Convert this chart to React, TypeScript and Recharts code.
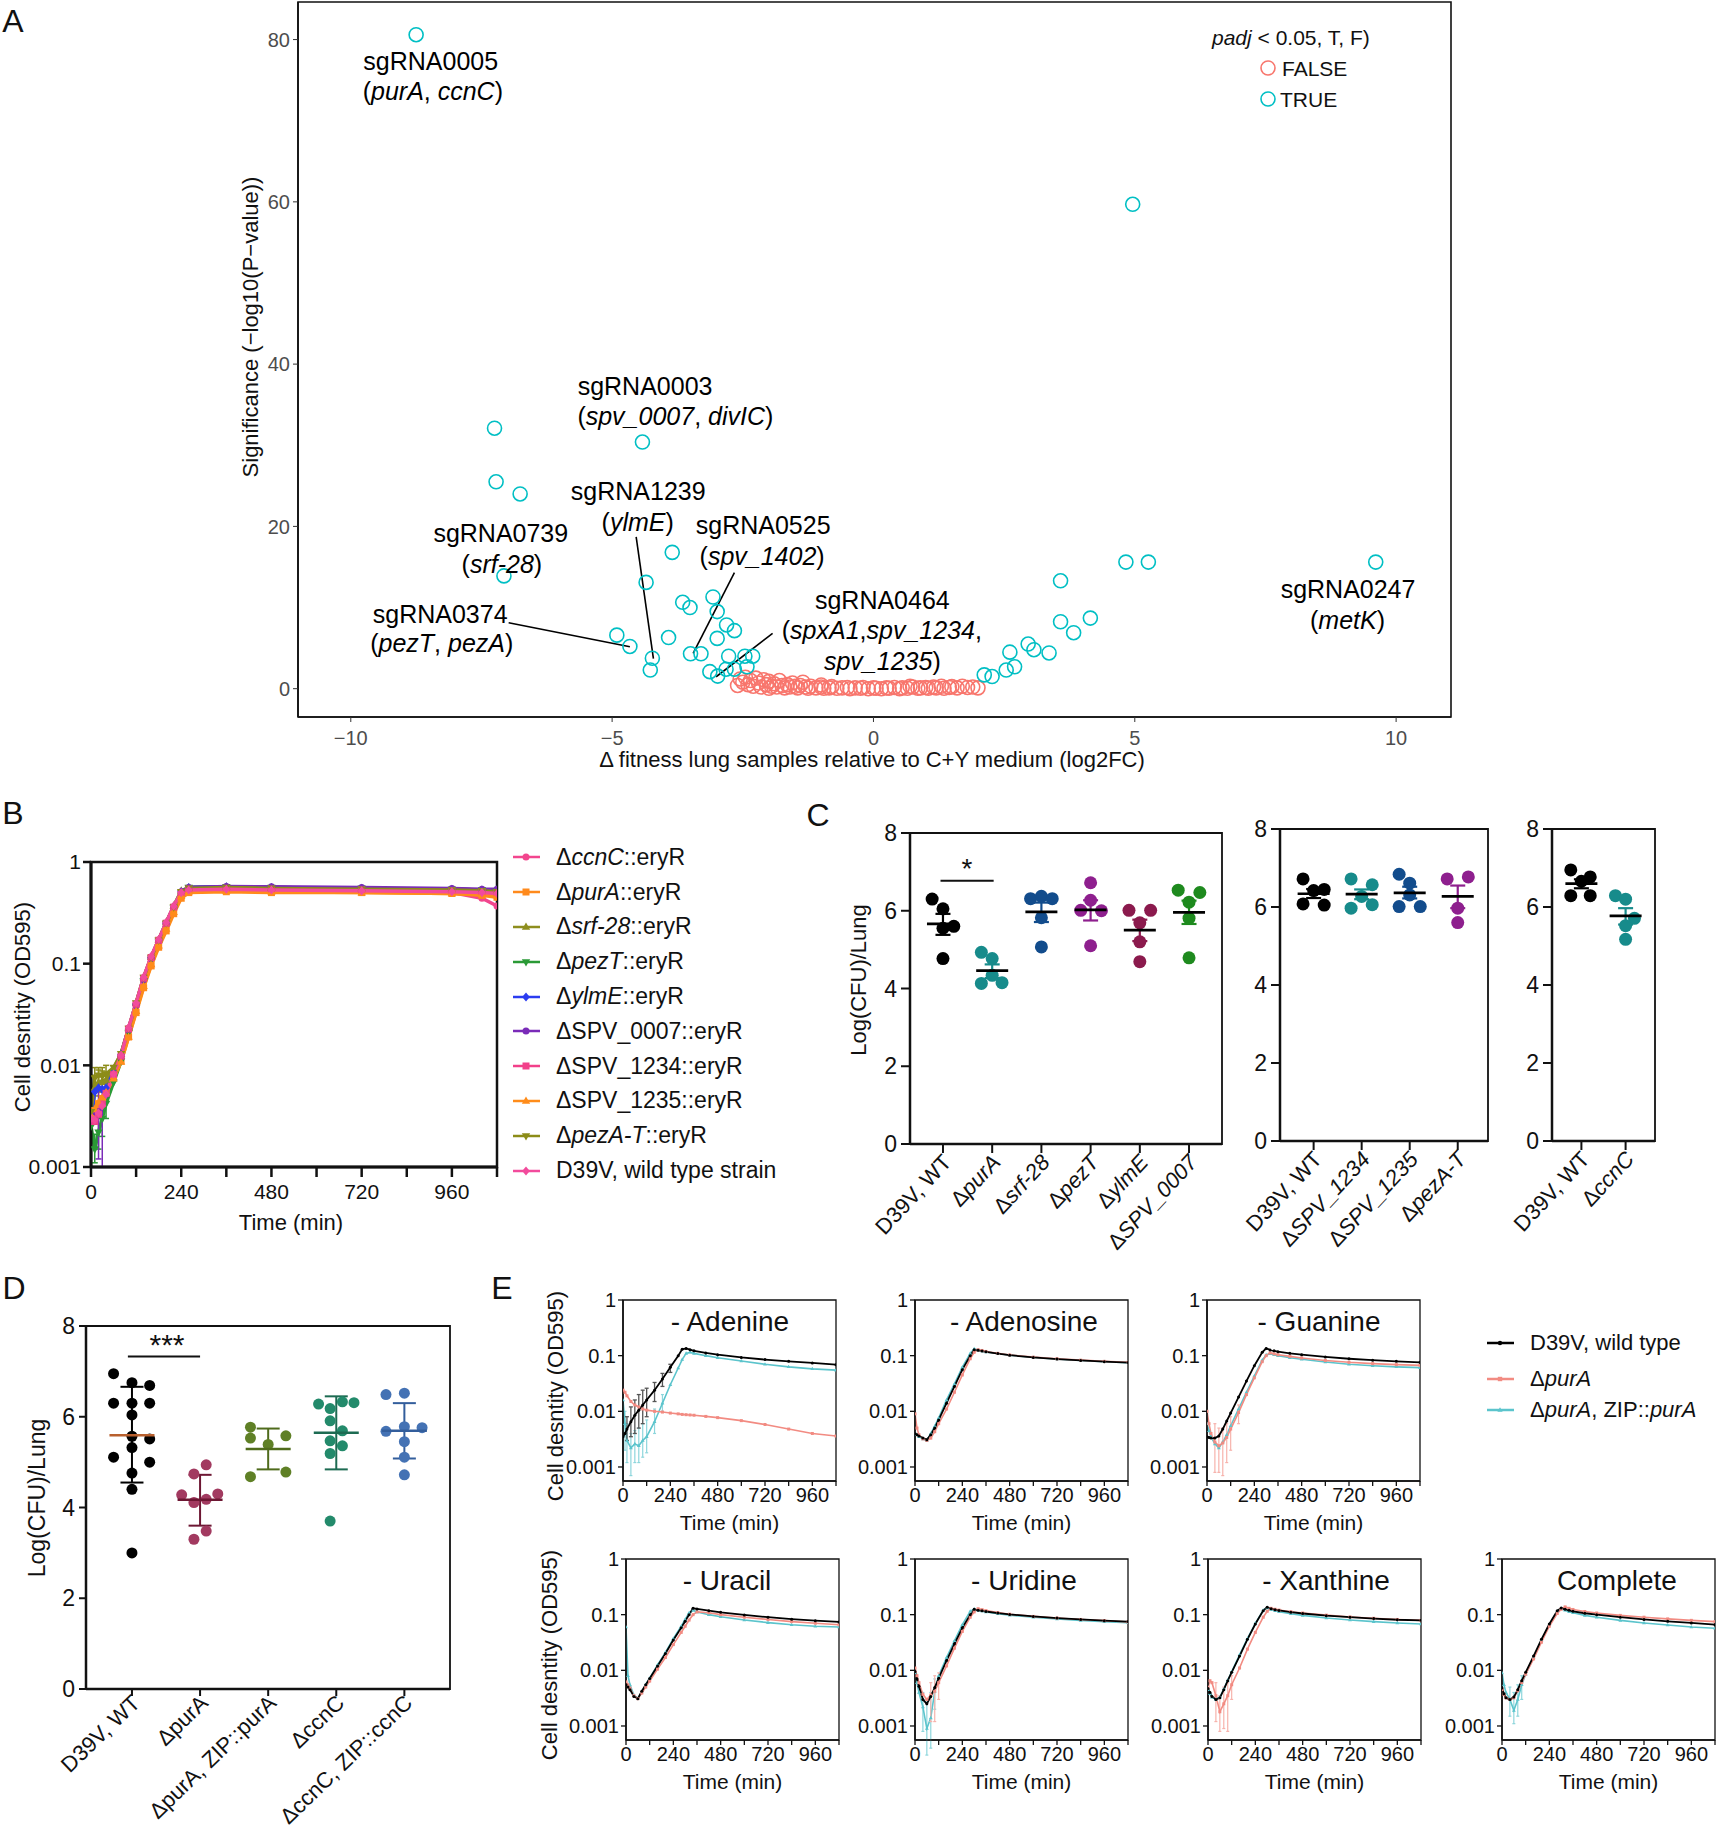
import React from 'react';
import {
  ScatterChart, Scatter, LineChart, Line, XAxis, YAxis,
  ReferenceLine, ReferenceArea, ErrorBar,
} from 'recharts';

const FONT = "'Liberation Sans', Arial, Helvetica, sans-serif";
const INK = '#111';

// ---------- Panel A: volcano (log2FC, -log10 p) ----------
const A_TRUE: [number, number][] = [
  [-8.75, 80.6], [4.96, 59.7], [-7.25, 32.1], [-4.42, 30.4], [-7.22, 25.5], [-6.76, 24.0],
  [-3.85, 16.8], [-7.07, 13.9], [-4.35, 13.1], [-3.65, 10.65], [-3.51, 10.0], [-3.07, 11.3],
  [-2.99, 9.5], [-2.81, 7.85], [-2.66, 7.15], [-2.99, 6.2], [-3.92, 6.3], [-4.91, 6.6],
  [-4.66, 5.2], [-4.23, 3.75], [-4.27, 2.3], [-3.5, 4.3], [-3.3, 4.3], [-2.77, 4.0],
  [-3.13, 2.1], [-2.98, 1.55], [-2.82, 2.4], [-2.66, 2.4], [-2.46, 4.0], [-2.31, 4.0],
  [-2.42, 2.7], [2.12, 1.7], [2.27, 1.5], [2.54, 2.3], [2.7, 2.7], [2.61, 4.5], [2.96, 5.5],
  [3.07, 4.8], [3.36, 4.4], [3.58, 13.3], [3.58, 8.25], [3.83, 6.9], [4.15, 8.7],
  [4.83, 15.6], [5.26, 15.6], [9.61, 15.6],
];
const A_FALSE: [number, number][] = [
  [-2.6, 0.4], [-2.55, 1.2], [-2.5, 0.8], [-2.45, 1.4], [-2.4, 0.5], [-2.35, 1.0], [-2.3, 0.3],
  [-2.25, 1.3], [-2.2, 0.7], [-2.15, 0.2], [-2.1, 1.1], [-2.05, 0.5], [-2.0, 0.9], [-2.0, 0.05],
  [-1.95, 0.3], [-1.9, 0.6], [-1.85, 0.2], [-1.8, 1.0], [-1.75, 0.4], [-1.7, 0.1], [-1.65, 0.5],
  [-1.6, 0.2], [-1.55, 0.7], [-1.5, 0.3], [-1.45, 0.1], [-1.4, 0.4], [-1.35, 0.8], [-1.3, 0.2],
  [-1.25, 0.05], [-1.2, 0.3], [-1.1, 0.1], [-1.0, 0.2], [-1.0, 0.45], [-0.95, 0.05], [-0.85, 0.1],
  [-0.8, 0.25], [-0.7, 0.05], [-0.6, 0.1], [-0.5, 0.15], [-0.45, 0.0], [-0.35, 0.1], [-0.25, 0.05],
  [-0.2, 0.15], [-0.1, 0.0], [0.0, 0.1], [0.05, 0.05], [0.15, 0.0], [0.25, 0.1], [0.3, 0.05],
  [0.4, 0.15], [0.5, 0.0], [0.55, 0.1], [0.65, 0.05], [0.7, 0.3], [0.75, 0.2], [0.85, 0.05],
  [0.9, 0.1], [1.0, 0.15], [1.05, 0.05], [1.15, 0.2], [1.2, 0.1], [1.3, 0.3], [1.35, 0.05],
  [1.45, 0.15], [1.5, 0.25], [1.6, 0.1], [1.7, 0.3], [1.8, 0.15], [1.9, 0.2], [2.0, 0.1],
];
const A_XTICKS = [-10, -5, 0, 5, 10];
const A_YTICKS = [0, 20, 40, 60, 80];

// ---------- Panel B: growth of deletion strains ----------
const B_TIME = [0, 10, 20, 30, 40, 60, 80, 100, 120, 140, 160, 180, 200, 220, 240, 260, 360, 480, 720, 960, 1040, 1080];
const B_CCNC = [0.003, 0.0033, 0.0038, 0.0045, 0.0056, 0.0082, 0.0125, 0.023, 0.04, 0.072, 0.115, 0.17, 0.25, 0.36, 0.49, 0.53, 0.54, 0.53, 0.52, 0.5, 0.44, 0.37];
const B_PURA = [0.0032, 0.0036, 0.0042, 0.0047, 0.0055, 0.0075, 0.011, 0.019, 0.033, 0.058, 0.095, 0.145, 0.21, 0.31, 0.44, 0.5, 0.51, 0.5, 0.5, 0.49, 0.47, 0.45];
const B_SRF28 = [0.0028, 0.006, 0.0068, 0.007, 0.0072, 0.0092, 0.013, 0.023, 0.041, 0.073, 0.116, 0.172, 0.255, 0.37, 0.52, 0.56, 0.57, 0.56, 0.55, 0.54, 0.53, 0.52];
const B_PEZT = [0.0025, 0.0015, 0.0022, 0.003, 0.0042, 0.0068, 0.011, 0.021, 0.038, 0.068, 0.11, 0.165, 0.245, 0.355, 0.5, 0.56, 0.57, 0.56, 0.55, 0.54, 0.53, 0.52];
const B_YLME = [0.003, 0.0055, 0.006, 0.0058, 0.006, 0.0085, 0.0128, 0.023, 0.04, 0.071, 0.114, 0.17, 0.25, 0.36, 0.51, 0.56, 0.57, 0.56, 0.55, 0.54, 0.53, 0.53];
const B_SPV0007 = [0.0028, 0.0032, 0.0035, 0.0042, 0.0052, 0.008, 0.0122, 0.0225, 0.039, 0.07, 0.113, 0.168, 0.248, 0.36, 0.51, 0.56, 0.575, 0.57, 0.56, 0.55, 0.54, 0.54];
const B_SPV1234 = [0.003, 0.0028, 0.0033, 0.0042, 0.0053, 0.0081, 0.0123, 0.0228, 0.04, 0.072, 0.115, 0.17, 0.25, 0.36, 0.5, 0.54, 0.55, 0.54, 0.53, 0.52, 0.51, 0.5];
const B_SPV1235 = [0.0032, 0.0037, 0.0043, 0.0048, 0.0054, 0.0074, 0.0108, 0.019, 0.034, 0.06, 0.098, 0.15, 0.22, 0.32, 0.46, 0.51, 0.52, 0.51, 0.5, 0.49, 0.48, 0.47];
const B_PEZAT = [0.0035, 0.0075, 0.008, 0.0078, 0.0082, 0.0095, 0.013, 0.023, 0.041, 0.073, 0.115, 0.17, 0.25, 0.36, 0.51, 0.55, 0.56, 0.55, 0.54, 0.53, 0.52, 0.51];
const B_D39V = [0.003, 0.0029, 0.0034, 0.004, 0.0052, 0.0082, 0.0126, 0.0235, 0.041, 0.074, 0.118, 0.173, 0.255, 0.37, 0.5, 0.53, 0.54, 0.53, 0.52, 0.51, 0.5, 0.49];
// early error ranges [low, high] by time point
const B_SRF28_BAND: Record<number, [number, number]> = { 10: [0.004, 0.008], 20: [0.005, 0.009], 30: [0.0055, 0.0088], 40: [0.006, 0.0085] };
const B_PEZT_BAND: Record<number, [number, number]> = { 10: [0.0011, 0.0021], 20: [0.0015, 0.003], 30: [0.002, 0.0042], 40: [0.003, 0.0055] };
const B_SPV0007_BAND: Record<number, [number, number]> = { 20: [0.0012, 0.0055], 30: [0.001, 0.006] };
const B_PEZAT_BAND: Record<number, [number, number]> = { 10: [0.0055, 0.0095], 20: [0.006, 0.0095], 30: [0.0055, 0.0095], 40: [0.0065, 0.01] };
const B_STRAINS = [
  'Δ*ccnC*::eryR', 'Δ*purA*::eryR', 'Δ*srf-28*::eryR', 'Δ*pezT*::eryR', 'Δ*ylmE*::eryR',
  'ΔSPV_0007::eryR', 'ΔSPV_1234::eryR', 'ΔSPV_1235::eryR', 'Δ*pezA-T*::eryR', 'D39V, wild type strain',
];
const B_VALUES = [B_CCNC, B_PURA, B_SRF28, B_PEZT, B_YLME, B_SPV0007, B_SPV1234, B_SPV1235, B_PEZAT, B_D39V];
const B_BANDS = [null, null, B_SRF28_BAND, B_PEZT_BAND, null, B_SPV0007_BAND, null, null, B_PEZAT_BAND, null];
const B_COLORS = ['#F2468E', '#FF8A1C', '#8E8E1E', '#2A9A36', '#2B3CF0', '#7A2BB8', '#F2408A', '#FF8C1A', '#8C8C18', '#F24B9C'];
const B_MARKERS = ['circle', 'square', 'up', 'down', 'diamond', 'circle', 'square', 'up', 'down', 'diamond'];

// ---------- Panel C: lung CFU, three screens ----------
const C1_CATS = ['D39V, WT', 'Δ*purA*', 'Δ*srf-28*', 'Δ*pezT*', 'Δ*ylmE*', 'Δ*SPV_0007*'];
const C1_VALUES = [
  [6.3, 6.05, 5.6, 5.55, 4.77], [4.93, 4.77, 4.34, 4.13, 4.15], [6.31, 6.37, 6.31, 5.82, 5.07],
  [6.72, 6.27, 6.01, 6.0, 5.1], [6.01, 6.01, 5.69, 5.2, 4.69], [6.53, 6.47, 6.22, 5.81, 4.79],
];
const C1_JITTER = [
  [-0.22, 0, 0.22, 0, 0], [-0.22, 0, 0, -0.22, 0.2], [-0.22, 0, 0.22, 0, 0],
  [0, 0, -0.2, 0.22, 0], [-0.22, 0.22, 0, 0, 0], [-0.22, 0.22, 0, 0, 0],
];
const C1_MEAN = [5.66, 4.46, 5.97, 6.02, 5.5, 5.96];
const C1_LO = [5.38, 4.27, 5.71, 5.75, 5.22, 5.66];
const C1_HI = [5.92, 4.62, 6.21, 6.27, 5.77, 6.26];

const C2_CATS = ['D39V, WT', 'Δ*SPV_1234*', 'Δ*SPV_1235*', 'Δ*pezA-T*'];
const C2_VALUES = [[6.72, 6.42, 6.45, 6.08, 6.05], [6.72, 6.57, 6.27, 5.97, 6.06], [6.84, 6.61, 6.31, 6.01, 6.01], [6.72, 6.77, 5.97, 5.6]];
const C2_JITTER = [[-0.22, 0, 0.22, -0.22, 0.22], [-0.22, 0.22, 0, -0.22, 0.22], [-0.22, 0, 0, -0.22, 0.22], [-0.22, 0.22, 0, 0]];
const C2_MEAN = [6.34, 6.33, 6.36, 6.27];
const C2_LO = [6.23, 6.2, 6.22, 5.97];
const C2_HI = [6.46, 6.45, 6.52, 6.55];

const C3_CATS = ['D39V, WT', 'Δ*ccnC*'];
const C3_VALUES = [[6.95, 6.77, 6.66, 6.29, 6.29], [6.29, 6.2, 5.71, 5.52, 5.17]];
const C3_JITTER = [[-0.24, 0.2, 0, -0.24, 0.2], [-0.23, 0, 0.2, 0, 0]];
const C3_MEAN = [6.6, 5.77];
const C3_LO = [6.48, 5.55];
const C3_HI = [6.71, 5.97];

// ---------- Panel D: complementation, lung CFU ----------
const D_CATS = ['D39V, WT', 'ΔpurA', 'ΔpurA, ZIP::purA', 'ΔccnC', 'ΔccnC, ZIP::ccnC'];
const D_VALUES = [
  [6.95, 6.75, 6.69, 6.3, 6.3, 6.3, 6.04, 5.57, 5.51, 5.32, 5.11, 5.0, 4.76, 4.4, 3.0],
  [4.94, 4.74, 4.28, 4.3, 4.11, 4.18, 3.48, 3.3],
  [5.77, 5.53, 5.58, 5.39, 4.68, 4.78],
  [6.28, 6.18, 6.33, 6.31, 5.91, 5.69, 5.47, 5.36, 5.19, 3.7],
  [6.49, 6.52, 5.68, 5.78, 5.76, 5.45, 5.11, 4.72],
];
const D_JITTER = [
  [-0.27, 0, 0.26, -0.27, 0, 0.26, 0, 0, 0.26, 0, -0.27, 0.26, 0, 0, 0],
  [0.09, -0.09, -0.27, 0.26, -0.09, 0.09, 0.09, -0.09],
  [-0.26, -0.26, 0.26, 0, -0.26, 0.26],
  [-0.26, -0.09, 0.09, 0.26, -0.09, 0.09, -0.09, 0.09, -0.09, -0.09],
  [-0.27, 0, -0.27, 0, 0.26, 0, 0, 0],
];
const D_MEAN = [5.59, 4.17, 5.29, 5.65, 5.69];
const D_LO = [4.55, 3.6, 4.84, 4.84, 5.08];
const D_HI = [6.66, 4.72, 5.74, 6.45, 6.3];

// ---------- Panel E: growth without nucleobases ----------
const E_TIME = [0, 10, 20, 40, 60, 80, 100, 120, 160, 200, 240, 280, 300, 320, 340, 360, 420, 480, 600, 720, 840, 960, 1080];
const ADENINE_WT = [0.0035, 0.004, 0.0048, 0.0065, 0.0085, 0.0105, 0.013, 0.016, 0.024, 0.038, 0.062, 0.1, 0.13, 0.135, 0.128, 0.122, 0.112, 0.104, 0.093, 0.085, 0.079, 0.074, 0.069];
const ADENINE_PURA = [0.024, 0.022, 0.019, 0.015, 0.013, 0.012, 0.011, 0.0105, 0.01, 0.0097, 0.0093, 0.009, 0.0088, 0.0087, 0.0086, 0.0085, 0.0081, 0.0077, 0.0068, 0.0058, 0.0048, 0.004, 0.0036];
const ADENINE_ZIP = [0.016, 0.006, 0.003, 0.0022, 0.0026, 0.0024, 0.003, 0.0035, 0.0065, 0.014, 0.03, 0.06, 0.085, 0.11, 0.115, 0.11, 0.1, 0.092, 0.08, 0.07, 0.063, 0.058, 0.055];
const ADENOSINE_WT = [0.004, 0.0038, 0.0036, 0.0033, 0.0031, 0.0038, 0.005, 0.007, 0.014, 0.028, 0.056, 0.1, 0.128, 0.125, 0.121, 0.117, 0.109, 0.102, 0.093, 0.087, 0.082, 0.078, 0.075];
const ADENOSINE_PURA = [0.009, 0.005, 0.0038, 0.0032, 0.003, 0.0033, 0.0043, 0.006, 0.011, 0.022, 0.045, 0.088, 0.115, 0.128, 0.124, 0.119, 0.11, 0.103, 0.094, 0.088, 0.083, 0.079, 0.076];
const ADENOSINE_ZIP = [0.004, 0.0038, 0.0035, 0.0032, 0.003, 0.004, 0.0054, 0.0076, 0.016, 0.031, 0.062, 0.11, 0.132, 0.126, 0.121, 0.117, 0.109, 0.102, 0.093, 0.087, 0.082, 0.078, 0.075];
const GUANINE_WT = [0.0035, 0.0034, 0.0033, 0.0033, 0.0036, 0.0048, 0.0067, 0.0093, 0.018, 0.035, 0.066, 0.115, 0.135, 0.127, 0.122, 0.118, 0.11, 0.104, 0.095, 0.088, 0.083, 0.079, 0.076];
const GUANINE_PURA = [0.01, 0.006, 0.004, 0.0028, 0.0024, 0.0027, 0.0034, 0.0048, 0.0095, 0.02, 0.04, 0.078, 0.1, 0.112, 0.108, 0.104, 0.097, 0.091, 0.082, 0.076, 0.072, 0.069, 0.067];
const GUANINE_ZIP = [0.006, 0.0045, 0.0035, 0.0026, 0.0022, 0.0028, 0.0038, 0.0055, 0.011, 0.022, 0.043, 0.083, 0.103, 0.108, 0.104, 0.1, 0.092, 0.086, 0.077, 0.07, 0.066, 0.063, 0.061];
const URACIL_WT = [0.0055, 0.005, 0.0045, 0.0034, 0.0031, 0.0042, 0.0055, 0.0071, 0.012, 0.02, 0.035, 0.058, 0.076, 0.1, 0.13, 0.127, 0.118, 0.11, 0.099, 0.09, 0.083, 0.078, 0.074];
const URACIL_PURA = [0.0062, 0.0055, 0.0048, 0.0035, 0.0031, 0.0039, 0.005, 0.0064, 0.0105, 0.017, 0.029, 0.048, 0.062, 0.08, 0.1, 0.112, 0.108, 0.1, 0.09, 0.082, 0.075, 0.07, 0.066];
const URACIL_ZIP = [0.06, 0.008, 0.0055, 0.0036, 0.0031, 0.0041, 0.0055, 0.0072, 0.0125, 0.021, 0.037, 0.062, 0.082, 0.108, 0.12, 0.112, 0.1, 0.092, 0.08, 0.072, 0.066, 0.062, 0.06];
const URIDINE_WT = [0.0095, 0.007, 0.0052, 0.003, 0.0025, 0.0034, 0.0049, 0.0072, 0.015, 0.03, 0.058, 0.1, 0.125, 0.12, 0.117, 0.114, 0.107, 0.101, 0.093, 0.087, 0.082, 0.078, 0.075];
const URIDINE_PURA = [0.011, 0.008, 0.006, 0.0037, 0.003, 0.0036, 0.0042, 0.006, 0.012, 0.025, 0.05, 0.09, 0.112, 0.128, 0.123, 0.118, 0.109, 0.102, 0.093, 0.087, 0.082, 0.078, 0.074];
const URIDINE_ZIP = [0.009, 0.006, 0.004, 0.0022, 0.0009, 0.0014, 0.0042, 0.008, 0.017, 0.034, 0.066, 0.115, 0.126, 0.12, 0.116, 0.112, 0.104, 0.098, 0.09, 0.084, 0.079, 0.075, 0.072];
const XANTHINE_WT = [0.0047, 0.004, 0.0034, 0.003, 0.0032, 0.0045, 0.0065, 0.0092, 0.018, 0.036, 0.068, 0.118, 0.136, 0.128, 0.123, 0.119, 0.111, 0.105, 0.096, 0.09, 0.085, 0.081, 0.079];
const XANTHINE_PURA = [0.005, 0.0065, 0.006, 0.0035, 0.0018, 0.0025, 0.0035, 0.0055, 0.011, 0.024, 0.048, 0.09, 0.115, 0.13, 0.125, 0.121, 0.113, 0.107, 0.098, 0.091, 0.086, 0.082, 0.079];
const XANTHINE_ZIP = [0.0045, 0.0038, 0.0033, 0.003, 0.0033, 0.0046, 0.0066, 0.0094, 0.019, 0.037, 0.07, 0.12, 0.132, 0.124, 0.118, 0.113, 0.104, 0.097, 0.087, 0.08, 0.075, 0.071, 0.068];
const COMPLETE_WT = [0.0048, 0.0038, 0.0032, 0.003, 0.0033, 0.0045, 0.0065, 0.0092, 0.018, 0.036, 0.068, 0.117, 0.132, 0.125, 0.12, 0.115, 0.106, 0.1, 0.09, 0.082, 0.076, 0.071, 0.066];
const COMPLETE_PURA = [0.0045, 0.0037, 0.0032, 0.003, 0.0032, 0.0043, 0.006, 0.0085, 0.016, 0.032, 0.062, 0.105, 0.125, 0.138, 0.13, 0.124, 0.114, 0.107, 0.097, 0.09, 0.084, 0.079, 0.075];
const COMPLETE_ZIP = [0.009, 0.0055, 0.004, 0.003, 0.0019, 0.003, 0.0055, 0.0085, 0.017, 0.034, 0.066, 0.114, 0.128, 0.12, 0.113, 0.108, 0.097, 0.09, 0.079, 0.071, 0.065, 0.06, 0.057];

// error ranges [low, high] by time point
const ADENINE_WT_BAND: Record<number, [number, number]> = { 20: [0.003, 0.008], 40: [0.0035, 0.012], 60: [0.004, 0.016], 80: [0.005, 0.02], 100: [0.006, 0.024], 120: [0.008, 0.026], 160: [0.015, 0.033], 200: [0.028, 0.048], 240: [0.05, 0.07] };
const ADENINE_ZIP_BAND: Record<number, [number, number]> = { 10: [0.002, 0.01], 20: [0.0012, 0.006], 40: [0.0007, 0.004], 60: [0.0012, 0.0045], 80: [0.0012, 0.005], 100: [0.0015, 0.006], 120: [0.0018, 0.007], 160: [0.004, 0.011], 200: [0.01, 0.02] };
const GUANINE_PURA_BAND: Record<number, [number, number]> = { 40: [0.0008, 0.006], 60: [0.0008, 0.005], 80: [0.0007, 0.005], 100: [0.0012, 0.006], 120: [0.002, 0.008], 160: [0.006, 0.013] };
const URIDINE_ZIP_BAND: Record<number, [number, number]> = { 40: [0.0008, 0.004], 60: [0.0003, 0.003], 80: [0.0004, 0.004], 100: [0.002, 0.007] };
const URIDINE_PURA_BAND: Record<number, [number, number]> = { 80: [0.0012, 0.006], 100: [0.0012, 0.008], 120: [0.003, 0.009] };
const XANTHINE_PURA_BAND: Record<number, [number, number]> = { 40: [0.0012, 0.006], 60: [0.0008, 0.0035], 80: [0.0009, 0.005], 100: [0.0008, 0.006], 120: [0.003, 0.008] };
const COMPLETE_ZIP_BAND: Record<number, [number, number]> = { 40: [0.0015, 0.005], 60: [0.0011, 0.004], 80: [0.0015, 0.0055], 100: [0.003, 0.008] };

const E_LEGEND = ['D39V, wild type', 'Δ*purA*', 'Δ*purA*, ZIP::*purA*'];
const TIME_TICKS = [0, 120, 240, 360, 480, 600, 720, 840, 960, 1080];
const LOG_TICKS = [0.001, 0.01, 0.1, 1];

// ---------- helpers ----------
const at = (l: number, t: number): React.CSSProperties => ({ position: 'absolute', left: l, top: t });
const segs = (s: string) => s.split('*').map((t, i) => ({ t, it: i % 2 === 1 })).filter((p) => p.t.length);
const svgRich = (s: string) => segs(s).map((p, i) => (
  <tspan key={i} fontStyle={p.it ? 'italic' : 'normal'}>{p.t}</tspan>
));
const htmlRich = (s: string) => segs(s).map((p, i) => (p.it ? <i key={i}>{p.t}</i> : <span key={i}>{p.t}</span>));
const minusFmt = (v: number) => (v < 0 ? `\u2212${-v}` : `${v}`);
const timeFmt = (v: number) => (v % 240 === 0 && v <= 960 ? `${v}` : '');
const logFmt = (v: number) => `${v}`;
const errOf = (band: any, t: number, v: number) => (band && band[t] ? [v - band[t][0], band[t][1] - v] : undefined);

function Txt({ x, y, size, children, rot = 0, anchor = 'middle', weight = 400, color = INK }: any) {
  const tx = anchor === 'middle' ? '-50%' : anchor === 'end' ? '-100%' : '0%';
  return (
    <div style={{
      position: 'absolute', left: x, top: y, transform: `translate(${tx}, -50%) rotate(${rot}deg)`,
      fontSize: size, lineHeight: 1, whiteSpace: 'nowrap', fontFamily: FONT, fontWeight: weight, color,
    }}>{children}</div>
  );
}

function Marker({ kind, cx, cy, s, color }: any) {
  if (kind === 'square') return <rect x={cx - s} y={cy - s} width={2 * s} height={2 * s} fill={color} />;
  if (kind === 'up') return <polygon points={`${cx},${cy - s * 1.3} ${cx + s * 1.2},${cy + s * 0.8} ${cx - s * 1.2},${cy + s * 0.8}`} fill={color} />;
  if (kind === 'down') return <polygon points={`${cx},${cy + s * 1.3} ${cx + s * 1.2},${cy - s * 0.8} ${cx - s * 1.2},${cy - s * 0.8}`} fill={color} />;
  if (kind === 'diamond') return <polygon points={`${cx},${cy - s * 1.3} ${cx + s * 1.1},${cy} ${cx},${cy + s * 1.3} ${cx - s * 1.1},${cy}`} fill={color} />;
  return <circle cx={cx} cy={cy} r={s} fill={color} />;
}

const markerDot = (kind: string, color: string, s: number) => (p: any) => {
  if (p.cx == null || p.cy == null) return <g key={`n${p.index}`} />;
  return <Marker key={`m${p.index}`} kind={kind} cx={p.cx} cy={p.cy} s={s} color={color} />;
};

const catTick = (cats: string[], angle: number, size: number, dx: number, dy: number) => (t: any) => {
  const s = cats[Math.round(t.payload.value)];
  if (s === undefined) return <g />;
  return (
    <g transform={`translate(${t.x + dx},${t.y + dy}) rotate(${angle})`}>
      <text x={0} y={0} dy="0.35em" textAnchor="end" fontSize={size} fontFamily={FONT} fill={INK}>{svgRich(s)}</text>
    </g>
  );
};

// ---------- Panel A ----------
const A_NOTES = [
  { x: -8.47, y: 77.4, s: 'sgRNA0005' }, { x: -8.43, y: 73.6, s: '(*purA*, *ccnC*)' },
  { x: -4.37, y: 37.3, s: 'sgRNA0003' }, { x: -3.79, y: 33.6, s: '(*spv_0007*, *divIC*)' },
  { x: -4.5, y: 24.35, s: 'sgRNA1239' }, { x: -4.51, y: 20.5, s: '(*ylmE*)' },
  { x: -2.11, y: 20.2, s: 'sgRNA0525' }, { x: -2.13, y: 16.3, s: '(*spv_1402*)' },
  { x: -7.13, y: 19.2, s: 'sgRNA0739' }, { x: -7.11, y: 15.4, s: '(*srf-28*)' },
  { x: -8.29, y: 9.2, s: 'sgRNA0374' }, { x: -8.26, y: 5.6, s: '(*pezT*, *pezA*)' },
  { x: 0.17, y: 10.96, s: 'sgRNA0464' }, { x: 0.16, y: 7.2, s: '(*spxA1*,*spv_1234*,' },
  { x: 0.17, y: 3.46, s: '*spv_1235*)' },
  { x: 9.08, y: 12.25, s: 'sgRNA0247' }, { x: 9.07, y: 8.5, s: '(*metK*)' },
];
const A_LEADERS = [
  [[-6.98, 8.13], [-4.66, 5.17]], [[-4.54, 18.7], [-4.21, 3.7]],
  [[-2.66, 14.3], [-3.45, 4.35]], [[-1.93, 6.82], [-3.01, 1.47]],
];

function PanelA() {
  const px = 298, py = 2, pw = 1153, ph = 715, L = 70, T = 2, R = 20, B = 60;
  const xd: [number, number] = [-11.01, 11.05];
  const yd: [number, number] = [-3.49, 84.63];
  const ring = (color: string) => (p: any) => <circle cx={p.cx} cy={p.cy} r={7} fill="none" stroke={color} strokeWidth={1.6} />;
  const note = (p: any) => (
    <text x={p.cx} y={p.cy} dominantBaseline="central" textAnchor="middle" fontSize={25} fontFamily={FONT} fill="#000">
      {svgRich(p.payload.s)}
    </text>
  );
  const tickStyle = { fontSize: 20, fill: '#4d4d4d', fontFamily: FONT };
  return (
    <>
      <div style={at(px - L, py - T)}>
        <ScatterChart width={pw + L + R} height={ph + T + B} margin={{ top: T, right: R, left: 0, bottom: 0 }}>
          <XAxis type="number" dataKey="x" domain={xd} ticks={A_XTICKS} interval={0} allowDataOverflow height={B}
            tick={tickStyle} tickFormatter={minusFmt} tickSize={5} tickMargin={9}
            tickLine={{ stroke: '#333' }} axisLine={{ stroke: INK, strokeWidth: 1.6 }} />
          <YAxis type="number" dataKey="y" domain={yd} ticks={A_YTICKS} interval={0} allowDataOverflow width={L}
            tick={tickStyle} tickSize={5} tickMargin={3}
            tickLine={{ stroke: '#333' }} axisLine={{ stroke: INK, strokeWidth: 1.6 }} />
          <ReferenceArea x1={xd[0]} x2={xd[1]} y1={yd[0]} y2={yd[1]} fill="none" stroke={INK} strokeWidth={1.6} />
          {A_LEADERS.map((l, i) => (
            <ReferenceLine key={i} segment={[{ x: l[0][0], y: l[0][1] }, { x: l[1][0], y: l[1][1] }]} stroke="#000" strokeWidth={1.6} />
          ))}
          <Scatter data={A_FALSE.map(([x, y]) => ({ x, y }))} shape={ring('#F8766D')} isAnimationActive={false} />
          <Scatter data={A_TRUE.map(([x, y]) => ({ x, y }))} shape={ring('#00BFC4')} isAnimationActive={false} />
          <Scatter data={A_NOTES} shape={note} isAnimationActive={false} />
        </ScatterChart>
      </div>
      <Txt x={872} y={760} size={22}>Δ fitness lung samples relative to C+Y medium (log2FC)</Txt>
      <Txt x={251} y={327} size={22} rot={-90}>Significance (−log10(P−value))</Txt>
      <Txt x={1212} y={37} size={21} anchor="start"><i>padj</i> &lt; 0.05, T, F)</Txt>
      <svg style={at(1258, 58)} width={20} height={52}>
        <circle cx={10} cy={10} r={7} fill="none" stroke="#F8766D" strokeWidth={1.6} />
        <circle cx={10} cy={41} r={7} fill="none" stroke="#00BFC4" strokeWidth={1.6} />
      </svg>
      <Txt x={1282} y={68} size={21} anchor="start">FALSE</Txt>
      <Txt x={1280} y={99} size={21} anchor="start">TRUE</Txt>
    </>
  );
}

// ---------- Panel B ----------
function PanelB() {
  const px = 91, py = 862, pw = 406, ph = 305, L = 70, T = 16, R = 12, B = 50;
  const rows = B_TIME.map((t, i) => {
    const r: any = { t };
    B_VALUES.forEach((v, k) => {
      r[`s${k}`] = v[i];
      r[`e${k}`] = errOf(B_BANDS[k], t, v[i]);
    });
    return r;
  });
  const tickStyle = { fontSize: 21, fill: INK, fontFamily: FONT };
  return (
    <>
      <div style={at(px - L, py - T)}>
        <LineChart width={pw + L + R} height={ph + T + B} data={rows} margin={{ top: T, right: R, left: 0, bottom: 0 }}>
          <XAxis type="number" dataKey="t" domain={[0, 1080]} ticks={TIME_TICKS} interval={0} allowDataOverflow height={B}
            tick={tickStyle} tickFormatter={timeFmt} tickSize={10} tickMargin={7}
            tickLine={{ stroke: INK, strokeWidth: 2.5 }} axisLine={{ stroke: INK, strokeWidth: 3 }} />
          <YAxis type="number" scale="log" domain={[0.001, 1]} ticks={LOG_TICKS} interval={0} allowDataOverflow width={L}
            tick={tickStyle} tickFormatter={logFmt} tickSize={8} tickMargin={2}
            tickLine={{ stroke: INK, strokeWidth: 2.5 }} axisLine={{ stroke: INK, strokeWidth: 3 }} />
          <ReferenceArea x1={0} x2={1080} y1={0.001} y2={1} fill="none" stroke={INK} strokeWidth={2.5} />
          {B_VALUES.map((_, k) => (
            <Line key={k} dataKey={`s${k}`} stroke={B_COLORS[k]} strokeWidth={3.5} isAnimationActive={false}
              dot={markerDot(B_MARKERS[k], B_COLORS[k], 3.5)}>
              {B_BANDS[k] && <ErrorBar dataKey={`e${k}`} direction="y" width={3} stroke={B_COLORS[k]} strokeWidth={1.5} />}
            </Line>
          ))}
        </LineChart>
      </div>
      <Txt x={23} y={1007} size={22} rot={-90}>Cell desntity (OD595)</Txt>
      <Txt x={291} y={1223} size={22}>Time (min)</Txt>
      <div style={{ ...at(512, 840), fontFamily: FONT, fontSize: 23, color: INK }}>
        {B_STRAINS.map((s, k) => (
          <div key={k} style={{ height: 34.8, display: 'flex', alignItems: 'center', whiteSpace: 'nowrap' }}>
            <svg width={30} height={16}>
              <line x1={1} x2={28} y1={8} y2={8} stroke={B_COLORS[k]} strokeWidth={2.5} />
              <Marker kind={B_MARKERS[k]} cx={14} cy={8} s={3.5} color={B_COLORS[k]} />
            </svg>
            <span style={{ marginLeft: 14 }}>{htmlRich(s)}</span>
          </div>
        ))}
      </div>
    </>
  );
}

// ---------- dot plots (C, D) ----------
function DotPlot(p: any) {
  const [px, py, pw, ph] = p.box;
  const [L, T, R, B] = p.pads;
  const ticks = p.cats.map((_: string, i: number) => i);
  const tickStyle = { fontSize: p.tickFont, fill: INK, fontFamily: FONT };
  return (
    <div style={at(px - L, py - T)}>
      <ScatterChart width={pw + L + R} height={ph + T + B} margin={{ top: T, right: R, left: 0, bottom: 0 }}>
        <XAxis type="number" dataKey="x" domain={p.xDomain} ticks={ticks} interval={0} allowDataOverflow height={B}
          tick={catTick(p.cats, p.angle, p.labelFont, p.ldx, p.ldy)} tickSize={p.tickLen}
          tickLine={{ stroke: INK, strokeWidth: 2 }} axisLine={{ stroke: INK, strokeWidth: 2.5 }} />
        <YAxis type="number" dataKey="y" domain={[0, 8]} ticks={[0, 2, 4, 6, 8]} interval={0} allowDataOverflow width={L}
          tick={tickStyle} tickSize={p.tickLen} tickMargin={4}
          tickLine={{ stroke: INK, strokeWidth: 2 }} axisLine={{ stroke: INK, strokeWidth: 2.5 }} />
        <ReferenceArea x1={p.xDomain[0]} x2={p.xDomain[1]} y1={0} y2={8} fill="none" stroke={INK} strokeWidth={1.8} />
        {p.sig && (
          <ReferenceLine segment={[{ x: p.sig.x1, y: p.sig.y }, { x: p.sig.x2, y: p.sig.y }]} stroke={INK} strokeWidth={2} />
        )}
        {p.vals.map((vs: number[], g: number) => (
          <Scatter key={`d${g}`} data={vs.map((v, k) => ({ x: g + p.jit[g][k], y: v }))} isAnimationActive={false}
            shape={(s: any) => <circle cx={s.cx} cy={s.cy} r={p.r} fill={p.dotColors[g]} />} />
        ))}
        {p.mean.map((m: number, g: number) => (
          <Scatter key={`m${g}`} data={[{ x: g, y: m, err: [m - p.lo[g], p.hi[g] - m] }]} isAnimationActive={false}
            shape={(s: any) => (
              <line x1={s.cx - p.meanW / 2} x2={s.cx + p.meanW / 2} y1={s.cy} y2={s.cy} stroke={p.meanColors[g]} strokeWidth={p.lineW + 0.5} />
            )}>
            <ErrorBar dataKey="err" direction="y" width={p.capW / 2} stroke={p.barColors[g]} strokeWidth={p.lineW} />
          </Scatter>
        ))}
      </ScatterChart>
    </div>
  );
}

function PanelC() {
  const common = {
    pads: [62, 16, 8, 130], r: 6.5, meanW: 32, capW: 15, lineW: 2.2, angle: -47,
    labelFont: 22, tickFont: 23, tickLen: 9, ldx: 4, ldy: 3,
  };
  const c1Dots = ['#000', '#178B8B', '#124C8C', '#8E1F8E', '#8B1A4D', '#1E8A1E'];
  const c2Dots = ['#000', '#178B8B', '#124C8C', '#8E1F8E'];
  const c3Dots = ['#000', '#178B8B'];
  return (
    <>
      <DotPlot {...common} box={[910, 833, 312, 311]} xDomain={[-0.67, 5.67]} cats={C1_CATS}
        vals={C1_VALUES} jit={C1_JITTER} mean={C1_MEAN} lo={C1_LO} hi={C1_HI}
        dotColors={c1Dots} barColors={c1Dots} meanColors={c1Dots.map(() => '#000')}
        sig={{ x1: -0.05, x2: 1.03, y: 6.77 }} />
      <DotPlot {...common} pads={[50, 16, 8, 130]} box={[1280, 829, 208, 312]} xDomain={[-0.7, 3.63]} cats={C2_CATS}
        vals={C2_VALUES} jit={C2_JITTER} mean={C2_MEAN} lo={C2_LO} hi={C2_HI}
        dotColors={c2Dots} barColors={c2Dots} meanColors={c2Dots.map(() => '#000')} />
      <DotPlot {...common} pads={[50, 16, 10, 130]} box={[1552, 829, 103, 312]} xDomain={[-0.665, 1.665]} cats={C3_CATS}
        vals={C3_VALUES} jit={C3_JITTER} mean={C3_MEAN} lo={C3_LO} hi={C3_HI}
        dotColors={c3Dots} barColors={c3Dots} meanColors={c3Dots.map(() => '#000')} />
      <Txt x={859} y={980} size={22} rot={-90}>Log(CFU)/Lung</Txt>
      <Txt x={967} y={869} size={28}>*</Txt>
    </>
  );
}

function PanelD() {
  const dots = ['#000', '#A23A60', '#5F8026', '#238A6B', '#4472B4'];
  const bars = ['#000', '#6D1733', '#4F6B1C', '#1D6B52', '#335E9C'];
  const means = ['#B8602E', '#6D1733', '#4F6B1C', '#1D6B52', '#335E9C'];
  return (
    <>
      <DotPlot box={[86, 1326, 364, 363]} pads={[60, 16, 10, 142]} xDomain={[-0.675, 4.67]} cats={D_CATS}
        vals={D_VALUES} jit={D_JITTER} mean={D_MEAN} lo={D_LO} hi={D_HI}
        dotColors={dots} barColors={bars} meanColors={means}
        r={5.5} meanW={45} capW={23} lineW={2} angle={-44} labelFont={22} tickFont={23} tickLen={7} ldx={4} ldy={1}
        sig={{ x1: -0.06, x2: 1.0, y: 7.33 }} />
      <Txt x={37} y={1498} size={23} rot={-90}>Log(CFU)/Lung</Txt>
      <Txt x={167} y={1345} size={30}>***</Txt>
    </>
  );
}

// ---------- Panel E ----------
const E_COLORS = { wt: '#000', pur: '#F28B82', zip: '#5BC4CC' };

function Growth({ left, top, title, titleX, wt, pur, zip, bands, yTitleX }: any) {
  const W = 213, H = 181, L = 62, T = 14, R = 10, B = 34;
  const rows = E_TIME.map((t, i) => ({
    t, wt: wt[i], pur: pur[i], zip: zip[i],
    wtE: errOf(bands.wt, t, wt[i]), purE: errOf(bands.pur, t, pur[i]), zipE: errOf(bands.zip, t, zip[i]),
  }));
  const tickStyle = { fontSize: 20, fill: INK, fontFamily: FONT };
  return (
    <>
      <div style={at(left - L, top - T)}>
        <LineChart width={W + L + R} height={H + T + B} data={rows} margin={{ top: T, right: R, left: 0, bottom: 0 }}>
          <XAxis type="number" dataKey="t" domain={[0, 1080]} ticks={TIME_TICKS} interval={0} allowDataOverflow height={B}
            tick={tickStyle} tickFormatter={timeFmt} tickSize={5} tickMargin={2}
            tickLine={{ stroke: INK, strokeWidth: 1.3 }} axisLine={{ stroke: INK, strokeWidth: 1.6 }} />
          <YAxis type="number" scale="log" domain={[0.00056, 1]} ticks={LOG_TICKS} interval={0} allowDataOverflow width={L}
            tick={tickStyle} tickFormatter={logFmt} tickSize={5} tickMargin={2}
            tickLine={{ stroke: INK, strokeWidth: 1.3 }} axisLine={{ stroke: INK, strokeWidth: 1.6 }} />
          <ReferenceArea x1={0} x2={1080} y1={0.00056} y2={1} fill="none" stroke={INK} strokeWidth={1.3} />
          <Line dataKey="zip" stroke={E_COLORS.zip} strokeWidth={1.6} isAnimationActive={false} dot={markerDot('up', E_COLORS.zip, 1.6)}>
            {bands.zip && <ErrorBar dataKey="zipE" direction="y" width={1.5} stroke="#8ED6DC" strokeWidth={1.2} />}
          </Line>
          <Line dataKey="pur" stroke={E_COLORS.pur} strokeWidth={1.6} isAnimationActive={false} dot={markerDot('square', E_COLORS.pur, 1.5)}>
            {bands.pur && <ErrorBar dataKey="purE" direction="y" width={1.5} stroke="#F7B3AC" strokeWidth={1.2} />}
          </Line>
          <Line dataKey="wt" stroke={E_COLORS.wt} strokeWidth={1.8} isAnimationActive={false} dot={markerDot('circle', E_COLORS.wt, 1.5)}>
            {bands.wt && <ErrorBar dataKey="wtE" direction="y" width={2} stroke="#555" strokeWidth={1.3} />}
          </Line>
        </LineChart>
      </div>
      <Txt x={titleX} y={top + 22} size={28}>{title}</Txt>
      <Txt x={left + W / 2} y={top + H + 41} size={21}>Time (min)</Txt>
      {yTitleX && <Txt x={yTitleX} y={top + H / 2 + 5} size={22} rot={-90}>Cell desntity (OD595)</Txt>}
    </>
  );
}

function PanelE() {
  return (
    <>
      <Growth left={623} top={1300} title="- Adenine" titleX={730} wt={ADENINE_WT} pur={ADENINE_PURA} zip={ADENINE_ZIP}
        bands={{ wt: ADENINE_WT_BAND, zip: ADENINE_ZIP_BAND }} yTitleX={556} />
      <Growth left={915} top={1300} title="- Adenosine" titleX={1024} wt={ADENOSINE_WT} pur={ADENOSINE_PURA} zip={ADENOSINE_ZIP} bands={{}} />
      <Growth left={1207} top={1300} title="- Guanine" titleX={1319} wt={GUANINE_WT} pur={GUANINE_PURA} zip={GUANINE_ZIP}
        bands={{ pur: GUANINE_PURA_BAND }} />
      <Growth left={626} top={1559} title="- Uracil" titleX={727} wt={URACIL_WT} pur={URACIL_PURA} zip={URACIL_ZIP}
        bands={{}} yTitleX={550} />
      <Growth left={915} top={1559} title="- Uridine" titleX={1024} wt={URIDINE_WT} pur={URIDINE_PURA} zip={URIDINE_ZIP}
        bands={{ zip: URIDINE_ZIP_BAND, pur: URIDINE_PURA_BAND }} />
      <Growth left={1208} top={1559} title="- Xanthine" titleX={1326} wt={XANTHINE_WT} pur={XANTHINE_PURA} zip={XANTHINE_ZIP}
        bands={{ pur: XANTHINE_PURA_BAND }} />
      <Growth left={1502} top={1559} title="Complete" titleX={1617} wt={COMPLETE_WT} pur={COMPLETE_PURA} zip={COMPLETE_ZIP}
        bands={{ zip: COMPLETE_ZIP_BAND }} />
      {E_LEGEND.map((s, k) => {
        const color = [E_COLORS.wt, E_COLORS.pur, E_COLORS.zip][k];
        const kind = ['circle', 'square', 'up'][k];
        const y = [1343, 1379, 1410][k];
        return (
          <React.Fragment key={k}>
            <svg style={at(1486, y - 6)} width={30} height={12}>
              <line x1={1} x2={28} y1={6} y2={6} stroke={color} strokeWidth={2.5} />
              <Marker kind={kind} cx={14} cy={6} s={2.2} color={color} />
            </svg>
            <Txt x={1530} y={y} size={22} anchor="start">{htmlRich(s)}</Txt>
          </React.Fragment>
        );
      })}
    </>
  );
}

export default function App() {
  return (
    <div style={{ position: 'absolute', left: 0, top: 0, width: 1721, height: 1833, background: '#fff', fontFamily: FONT, color: INK, overflow: 'hidden' }}>
      <PanelA />
      <PanelB />
      <PanelC />
      <PanelD />
      <PanelE />
      <Txt x={13} y={21} size={32}>A</Txt>
      <Txt x={13} y={813} size={32}>B</Txt>
      <Txt x={818} y={815} size={32}>C</Txt>
      <Txt x={14} y={1288} size={32}>D</Txt>
      <Txt x={502} y={1288} size={32}>E</Txt>
    </div>
  );
}
